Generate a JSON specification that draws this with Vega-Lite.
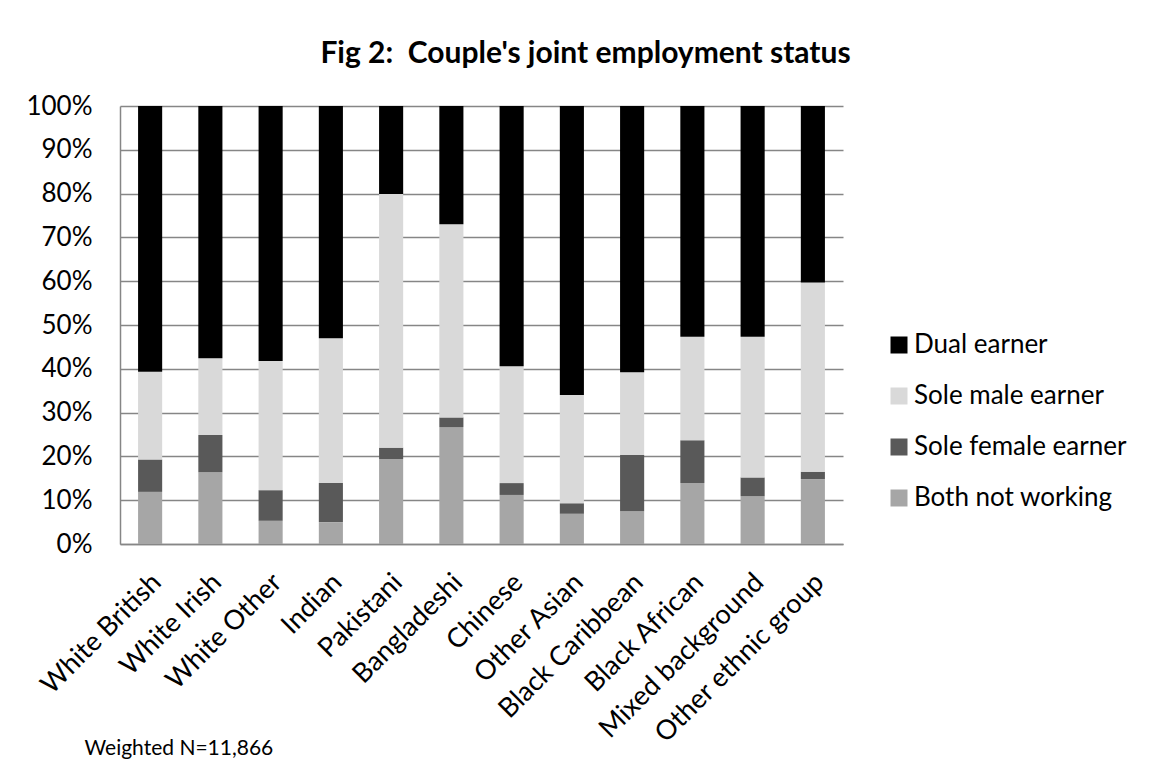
{
  "$schema": "https://vega.github.io/schema/vega-lite/v6.json",
  "autosize": {"type": "none"},
  "width": 723,
  "height": 438,
  "padding": {"left": 120, "top": 106, "right": 308, "bottom": 216},
  "background": "white",
  "config": {
    "font": "Lato",
    "view": {"stroke": null}
  },
  "title": {
    "text": "Fig 2:\u00a0 Couple's joint employment status",
    "font": "Lato",
    "fontSize": 30,
    "fontWeight": "bold",
    "color": "#000000",
    "anchor": "middle",
    "frame": "group",
    "dx": 104,
    "offset": 24
  },
  "data": {
    "values": [
      {"group": "White British", "status": "Both not working", "value": 11.9, "ord": 1},
      {"group": "White British", "status": "Sole female earner", "value": 7.4, "ord": 2},
      {"group": "White British", "status": "Sole male earner", "value": 20.0, "ord": 3},
      {"group": "White British", "status": "Dual earner", "value": 60.7, "ord": 4},
      {"group": "White Irish", "status": "Both not working", "value": 16.4, "ord": 1},
      {"group": "White Irish", "status": "Sole female earner", "value": 8.5, "ord": 2},
      {"group": "White Irish", "status": "Sole male earner", "value": 17.5, "ord": 3},
      {"group": "White Irish", "status": "Dual earner", "value": 57.6, "ord": 4},
      {"group": "White Other", "status": "Both not working", "value": 5.3, "ord": 1},
      {"group": "White Other", "status": "Sole female earner", "value": 7.0, "ord": 2},
      {"group": "White Other", "status": "Sole male earner", "value": 29.5, "ord": 3},
      {"group": "White Other", "status": "Dual earner", "value": 58.2, "ord": 4},
      {"group": "Indian", "status": "Both not working", "value": 5.0, "ord": 1},
      {"group": "Indian", "status": "Sole female earner", "value": 8.9, "ord": 2},
      {"group": "Indian", "status": "Sole male earner", "value": 33.1, "ord": 3},
      {"group": "Indian", "status": "Dual earner", "value": 53.0, "ord": 4},
      {"group": "Pakistani", "status": "Both not working", "value": 19.4, "ord": 1},
      {"group": "Pakistani", "status": "Sole female earner", "value": 2.6, "ord": 2},
      {"group": "Pakistani", "status": "Sole male earner", "value": 57.9, "ord": 3},
      {"group": "Pakistani", "status": "Dual earner", "value": 20.1, "ord": 4},
      {"group": "Bangladeshi", "status": "Both not working", "value": 26.7, "ord": 1},
      {"group": "Bangladeshi", "status": "Sole female earner", "value": 2.2, "ord": 2},
      {"group": "Bangladeshi", "status": "Sole male earner", "value": 44.1, "ord": 3},
      {"group": "Bangladeshi", "status": "Dual earner", "value": 27.0, "ord": 4},
      {"group": "Chinese", "status": "Both not working", "value": 11.2, "ord": 1},
      {"group": "Chinese", "status": "Sole female earner", "value": 2.7, "ord": 2},
      {"group": "Chinese", "status": "Sole male earner", "value": 26.7, "ord": 3},
      {"group": "Chinese", "status": "Dual earner", "value": 59.4, "ord": 4},
      {"group": "Other Asian", "status": "Both not working", "value": 6.9, "ord": 1},
      {"group": "Other Asian", "status": "Sole female earner", "value": 2.4, "ord": 2},
      {"group": "Other Asian", "status": "Sole male earner", "value": 24.7, "ord": 3},
      {"group": "Other Asian", "status": "Dual earner", "value": 66.0, "ord": 4},
      {"group": "Black Caribbean", "status": "Both not working", "value": 7.5, "ord": 1},
      {"group": "Black Caribbean", "status": "Sole female earner", "value": 12.8, "ord": 2},
      {"group": "Black Caribbean", "status": "Sole male earner", "value": 18.9, "ord": 3},
      {"group": "Black Caribbean", "status": "Dual earner", "value": 60.8, "ord": 4},
      {"group": "Black African", "status": "Both not working", "value": 13.9, "ord": 1},
      {"group": "Black African", "status": "Sole female earner", "value": 9.8, "ord": 2},
      {"group": "Black African", "status": "Sole male earner", "value": 23.6, "ord": 3},
      {"group": "Black African", "status": "Dual earner", "value": 52.7, "ord": 4},
      {"group": "Mixed background", "status": "Both not working", "value": 10.9, "ord": 1},
      {"group": "Mixed background", "status": "Sole female earner", "value": 4.3, "ord": 2},
      {"group": "Mixed background", "status": "Sole male earner", "value": 32.1, "ord": 3},
      {"group": "Mixed background", "status": "Dual earner", "value": 52.7, "ord": 4},
      {"group": "Other ethnic group", "status": "Both not working", "value": 14.8, "ord": 1},
      {"group": "Other ethnic group", "status": "Sole female earner", "value": 1.7, "ord": 2},
      {"group": "Other ethnic group", "status": "Sole male earner", "value": 43.2, "ord": 3},
      {"group": "Other ethnic group", "status": "Dual earner", "value": 40.3, "ord": 4}
    ]
  },
  "mark": {"type": "bar"},
  "encoding": {
    "x": {
      "field": "group",
      "type": "nominal",
      "sort": null,
      "scale": {"paddingInner": 0.6, "paddingOuter": 0.3},
      "axis": {
        "title": "Weighted N=11,866",
        "titleFont": "Lato",
        "titleFontSize": 21,
        "titleFontWeight": "normal",
        "titleColor": "#000000",
        "titleAnchor": "start",
        "titleAlign": "left",
        "titleBaseline": "alphabetic",
        "titleX": -36,
        "titleY": 210,
        "labelAngle": -45,
        "labelAlign": "right",
        "labelBaseline": "middle",
        "labelFont": "Lato",
        "labelFontSize": 27,
        "labelColor": "#000000",
        "labelPadding": 34,
        "labelOffset": 7,
        "labelLimit": 500,
        "labelOverlap": false,
        "ticks": false,
        "domainColor": "#868686",
        "domainWidth": 1.5,
        "grid": false
      }
    },
    "y": {
      "field": "value",
      "type": "quantitative",
      "stack": "normalize",
      "scale": {"domain": [0, 1], "nice": false},
      "axis": {
        "title": null,
        "values": [0, 0.1, 0.2, 0.3, 0.4, 0.5, 0.6, 0.7, 0.8, 0.9, 1],
        "format": ".0%",
        "labelFont": "Lato",
        "labelFontSize": 26,
        "labelColor": "#000000",
        "labelPadding": 28,
        "ticks": false,
        "domainColor": "#868686",
        "domainWidth": 1.5,
        "grid": true,
        "gridColor": "#868686",
        "gridWidth": 1.5
      }
    },
    "color": {
      "field": "status",
      "type": "nominal",
      "scale": {
        "domain": ["Dual earner", "Sole male earner", "Sole female earner", "Both not working"],
        "range": ["#000000", "#d9d9d9", "#595959", "#a6a6a6"]
      },
      "legend": {
        "title": null,
        "orient": "none",
        "legendX": 766,
        "legendY": 226,
        "symbolType": "square",
        "symbolSize": 289,
        "symbolStrokeWidth": 0,
        "labelFont": "Lato",
        "labelFontSize": 26,
        "labelColor": "#000000",
        "labelOffset": 2,
        "rowPadding": 25,
        "labelLimit": 400
      }
    },
    "order": {"field": "ord", "type": "quantitative"}
  }
}
